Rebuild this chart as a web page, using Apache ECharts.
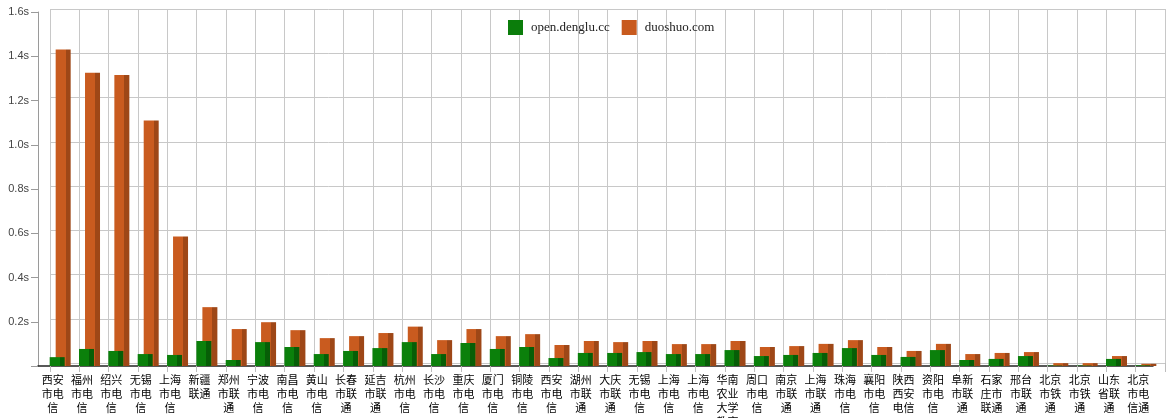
<!DOCTYPE html>
<html>
<head>
<meta charset="utf-8">
<script src="https://cdn.jsdelivr.net/npm/echarts@6/dist/echarts.min.js"></script>
<style>
html,body{margin:0;padding:0;background:#fff;}
#chart{width:1169px;height:418px;}
</style>
</head>
<body>
<div id="chart"></div>
<script>
const categories = ["西安市电信","福州市电信","绍兴市电信","无锡市电信","上海市电信","新疆联通","郑州市联通","宁波市电信","南昌市电信","黄山市电信","长春市联通","延吉市联通","杭州市电信","长沙市电信","重庆市电信","厦门市电信","铜陵市电信","西安市电信","湖州市联通","大庆市联通","无锡市电信","上海市电信","上海市电信","华南农业大学教育","周口市电信","南京市联通","上海市联通","珠海市电信","襄阳市电信","陕西西安电信","资阳市电信","阜新市联通","石家庄市联通","邢台市联通","北京市铁通","北京市铁通","山东省联通","北京市电信通"];
const dengluValues = [0.040,0.077,0.068,0.054,0.050,0.113,0.027,0.108,0.086,0.054,0.068,0.081,0.108,0.054,0.104,0.077,0.086,0.036,0.059,0.059,0.063,0.054,0.054,0.072,0.045,0.050,0.059,0.081,0.050,0.041,0.072,0.027,0.032,0.045,0.002,0.002,0.032,0.003];
const duoshuoValues = [1.430,1.325,1.315,1.110,0.585,0.266,0.167,0.198,0.162,0.126,0.135,0.149,0.178,0.117,0.167,0.135,0.144,0.095,0.113,0.108,0.113,0.099,0.099,0.113,0.086,0.090,0.100,0.117,0.086,0.068,0.100,0.054,0.059,0.063,0.013,0.013,0.045,0.010];
const seriesNames = ["open.denglu.cc","duoshuo.com"];
const yTickValues = [0.2,0.4,0.6,0.8,1.0,1.2,1.4,1.6];

const chart = echarts.init(document.getElementById('chart'), null, {renderer:'canvas'});

function shade(front, side){
  return new echarts.graphic.LinearGradient(0,0,1,0,[
    {offset:0,color:front},{offset:0.66,color:front},
    {offset:0.66,color:side},{offset:1,color:side}
  ]);
}
function wrap2(s){
  const parts=[];
  for(let i=0;i<s.length;i+=2) parts.push(s.slice(i,i+2));
  return parts.join('\n');
}

const option = {
  backgroundColor:'#fff',
  animation:false,
  legend:{
    left:503, top:15, itemWidth:15, itemHeight:15, itemGap:12,
    icon:'rect',
    textStyle:{fontFamily:'"Liberation Serif","DejaVu Serif",serif',fontSize:13,color:'#222',padding:[0,0,0,3]},
    data:[
      {name:seriesNames[0], itemStyle:{color:'#0b7d0b'}},
      {name:seriesNames[1], itemStyle:{color:'#c85a1e'}}
    ]
  },
  grid:[
    {left:50, right:4, top:9, bottom:55, containLabel:false, outerBoundsMode:'none'},
    {left:38, right:16, top:12, bottom:52, containLabel:false, outerBoundsMode:'none'},
    {left:45.5, right:8.5, top:12, bottom:52, containLabel:false, outerBoundsMode:'none'}
  ],
  xAxis:[
    {type:'category', gridIndex:0, data:categories, boundaryGap:true,
     axisLine:{show:false},
     axisTick:{show:true, interval:0, length:9, lineStyle:{color:'#bdbdbd'}},
     axisLabel:{show:false},
     splitLine:{show:true, interval:0, lineStyle:{color:'#c8c8c8'}}},
    {type:'category', gridIndex:1, data:categories, boundaryGap:true,
     axisLine:{show:true, lineStyle:{color:'#222', width:1.5}},
     axisTick:{show:false},
     axisLabel:{interval:0, margin:7, fontSize:11, lineHeight:14, color:'#000',
       fontFamily:'"Noto Sans CJK SC",sans-serif', formatter:wrap2},
     splitLine:{show:false}},
    {type:'category', gridIndex:2, data:categories, show:false}
  ],
  yAxis:[
    {type:'value', gridIndex:0, min:0, max:1.6, interval:0.2,
     axisLine:{show:false}, axisTick:{show:false}, axisLabel:{show:false},
     splitLine:{show:true, lineStyle:{color:'#c8c8c8'}}},
    {type:'value', gridIndex:1, min:0, max:1.6, interval:0.2,
     axisLine:{show:true, lineStyle:{color:'#9a9a9a'}},
     axisTick:{show:true, length:7, lineStyle:{color:'#9a9a9a'}},
     axisLabel:{margin:9, fontSize:11, color:'#444', fontFamily:'"Liberation Sans",Arial,sans-serif',
       formatter:function(v){
         for(const t of yTickValues){ if(Math.abs(t-v)<1e-6) return t.toFixed(1)+'s'; }
         return '';
       }},
     splitLine:{show:false}},
    {type:'value', gridIndex:2, min:0, max:1.6, interval:0.2, show:false}
  ],
  series:[
    {name:seriesNames[0], type:'bar', xAxisIndex:2, yAxisIndex:2, data:dengluValues,
     barWidth:15, barGap:'-60%', z:4,
     itemStyle:{color:shade('#0b800b','#075e07')}},
    {name:seriesNames[1], type:'bar', xAxisIndex:2, yAxisIndex:2, data:duoshuoValues,
     barWidth:15, barGap:'-60%', z:3,
     itemStyle:{color:shade('#c95b1f','#9e4717')}}
  ]
};
chart.setOption(option);
</script>
</body>
</html>
